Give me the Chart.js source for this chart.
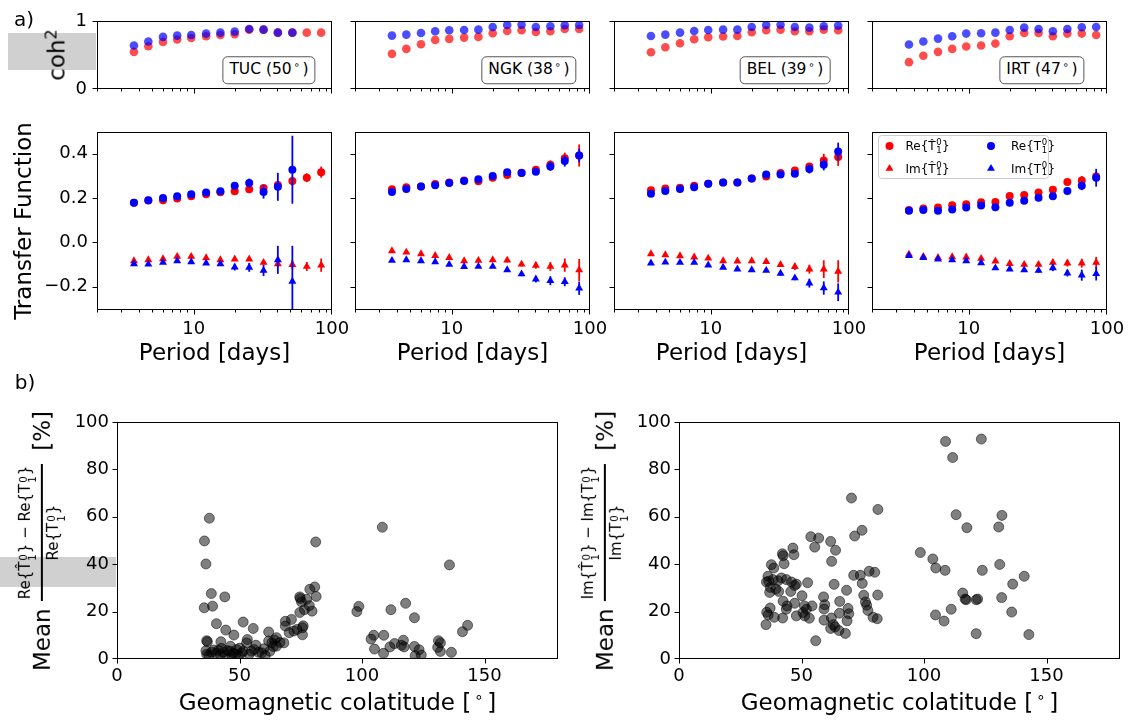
<!DOCTYPE html>
<html>
<head>
<meta charset="utf-8">
<title>Transfer functions</title>
<script src="https://cdn.jsdelivr.net/npm/chart.js@4.4.1/dist/chart.umd.min.js"></script>
<style>
  body { margin: 0; background: #fff; }
  #fig { position: relative; width: 1132px; height: 720px; overflow: hidden; background: #fff;
         font-family: "DejaVu Sans", sans-serif; color: #000; }
  #fig canvas { position: absolute; }
  .wm { position: absolute; background: #d0d0d0; }
  .txt { position: absolute; white-space: nowrap; line-height: 1; transform: translate(-50%, -50%); }
  .rot { transform: translate(-50%, -50%) rotate(-90deg); }
  .big { font-size: 23px; }
  .stn { font-size: 15.5px; padding: 5px 6px; border: 1.4px solid #555; border-radius: 5px; background: #fff; }
  .deg { font-size: 0.65em; position: relative; top: -0.55em; margin: 0 0.25em 0 0.2em; }
  .ylab { display: flex; align-items: center; }
  .frac { display: inline-flex; flex-direction: column; align-items: center; font-size: 15px; margin: 0 13px 0 7px; }
  .frac .num { padding: 0 2px 3px; border-bottom: 2px solid #000; }
  .frac .den { padding-top: 3px; }
  .ss { display: inline-flex; flex-direction: column; font-size: 0.68em; line-height: 0.95; vertical-align: 0.32em; margin: 0 1px; }
  .sup { font-size: 0.7em; position: relative; top: -0.5em; }
</style>
</head>
<body>
<div id="fig">
  <div class="wm" style="left:8px;top:33px;width:88px;height:37px"></div>
  <div class="wm" style="left:0;top:557px;width:116px;height:30px"></div>
</div>
<script>
// periods [days] and axis ticks
const periods = [3.7, 4.7, 6.0, 7.6, 9.6, 12.3, 15.6, 19.8, 25.2, 32.0, 40.6, 51.7, 65.7, 83.5, 106];
const periodTicks = [2, 3, 4, 5, 6, 7, 8, 9, 10, 20, 30, 40, 50, 60, 70, 80, 90, 100];
const periodLabels = [10, 100];
const tfTicks = [-0.2, 0, 0.2, 0.4];
const cohTicks = [0, 1];
const colatTicks = [0, 50, 100, 150];
const pctTicks = [0, 20, 40, 60, 80, 100];

const stationNames = ['TUC', 'NGK', 'BEL', 'IRT'];
const stationColat = [50, 38, 39, 47];

// TUC
const cohHatTUC = [0.546, 0.629, 0.693, 0.727, 0.751, 0.776, 0.795, 0.805, 0.873, 0.873, 0.829, 0.829, 0.829, 0.829, 0.80];
const cohTUC    = [0.639, 0.698, 0.766, 0.785, 0.795, 0.815, 0.829, 0.844, 0.883, 0.873, 0.829, 0.829, null, null, null];
const reHatTUC  = [0.178, 0.188, 0.19, 0.197, 0.207, 0.216, 0.225, 0.23, 0.239, 0.245, 0.258, 0.276, 0.291, 0.316, null];
const reTUC     = [0.178, 0.19, 0.2, 0.207, 0.216, 0.224, 0.23, 0.255, 0.267, 0.227, 0.25, 0.327, null, null, null];
const imHatTUC  = [-0.084, -0.079, -0.075, -0.064, -0.064, -0.07, -0.079, -0.076, -0.076, -0.091, -0.097, -0.101, -0.109, -0.103, -0.124];
const imTUC     = [-0.097, -0.099, -0.091, -0.084, -0.088, -0.094, -0.097, -0.112, -0.113, -0.127, -0.079, -0.176, null, null, null];
const errReHatTUC = [0, 0, 0, 0, 0, 0, 0, 0, 0, 0.01, 0.015, 0.02, 0.02, 0.025, 0];
const errReTUC    = [0, 0, 0, 0, 0, 0, 0, 0.01, 0.02, 0.03, 0.063, 0.153, 0, 0, 0];
const errImHatTUC = [0, 0, 0, 0, 0, 0, 0, 0, 0, 0.01, 0.015, 0.02, 0.02, 0.03, 0.02];
const errImTUC    = [0, 0, 0, 0, 0, 0, 0, 0.015, 0.02, 0.025, 0.063, 0.16, 0, 0, 0];

// NGK
const cohHatNGK = [0.517, 0.59, 0.659, 0.722, 0.737, 0.756, 0.766, 0.82, 0.854, 0.863, 0.839, 0.849, 0.883, 0.883, 0.873];
const cohNGK    = [0.785, 0.8, 0.824, 0.849, 0.863, 0.868, 0.873, 0.912, 0.941, 0.946, 0.912, 0.922, 0.937, 0.941, null];
const reHatNGK  = [0.239, 0.248, 0.252, 0.263, 0.269, 0.278, 0.275, 0.291, 0.303, 0.313, 0.327, 0.349, 0.379, 0.391, 0.394];
const reNGK     = [0.227, 0.24, 0.251, 0.257, 0.267, 0.276, 0.284, 0.299, 0.316, 0.312, 0.318, 0.342, 0.366, 0.391, null];
const imHatNGK  = [-0.039, -0.045, -0.052, -0.06, -0.069, -0.084, -0.082, -0.079, -0.081, -0.099, -0.104, -0.109, -0.103, -0.125, -0.139];
const imNGK     = [-0.082, -0.079, -0.084, -0.088, -0.1, -0.11, -0.109, -0.109, -0.124, -0.143, -0.166, -0.173, -0.178, -0.207, null];
const errReHatNGK = [0, 0, 0, 0, 0, 0, 0, 0, 0, 0.008, 0.015, 0.02, 0.025, 0.05, 0.03];
const errReNGK    = [0, 0, 0, 0, 0, 0, 0, 0, 0, 0.008, 0.015, 0.02, 0.025, 0.03, 0];
const errImHatNGK = [0, 0, 0, 0, 0, 0, 0, 0, 0.01, 0.01, 0.015, 0.02, 0.03, 0.05, 0.03];
const errImNGK    = [0, 0, 0, 0, 0, 0, 0, 0, 0, 0.01, 0.015, 0.02, 0.02, 0.03, 0];

// BEL
const cohHatBEL = [0.541, 0.615, 0.673, 0.732, 0.761, 0.771, 0.78, 0.834, 0.863, 0.873, 0.849, 0.849, 0.873, 0.863, 0.873];
const cohBEL    = [0.78, 0.8, 0.829, 0.854, 0.868, 0.873, 0.873, 0.912, 0.941, 0.946, 0.912, 0.902, 0.922, 0.932, null];
const reHatBEL  = [0.234, 0.242, 0.246, 0.255, 0.264, 0.269, 0.27, 0.287, 0.297, 0.312, 0.324, 0.342, 0.369, 0.384, 0.398];
const reBEL     = [0.219, 0.231, 0.24, 0.248, 0.264, 0.269, 0.27, 0.288, 0.306, 0.306, 0.309, 0.33, 0.349, 0.409, null];
const imHatBEL  = [-0.052, -0.057, -0.061, -0.067, -0.072, -0.084, -0.085, -0.084, -0.087, -0.101, -0.11, -0.121, -0.121, -0.131, -0.142];
const imBEL     = [-0.094, -0.09, -0.091, -0.091, -0.103, -0.113, -0.121, -0.124, -0.127, -0.14, -0.161, -0.184, -0.206, -0.225, null];
const errReHatBEL = [0, 0, 0, 0, 0, 0, 0, 0, 0, 0.01, 0.015, 0.015, 0.03, 0.04, 0.03];
const errReBEL    = [0, 0, 0, 0, 0, 0, 0, 0, 0, 0.01, 0.015, 0.02, 0.025, 0.04, 0];
const errImHatBEL = [0, 0, 0, 0, 0, 0, 0, 0, 0, 0.01, 0.015, 0.02, 0.04, 0.05, 0.03];
const errImBEL    = [0, 0, 0, 0, 0, 0, 0, 0, 0, 0.01, 0.01, 0.02, 0.03, 0.04, 0];

// IRT
const cohHatIRT = [0.395, 0.488, 0.546, 0.59, 0.624, 0.639, 0.668, 0.776, 0.824, 0.824, 0.776, 0.815, 0.815, 0.795, 0.815];
const cohIRT    = [0.654, 0.698, 0.741, 0.776, 0.815, 0.82, 0.829, 0.868, 0.902, 0.883, 0.849, 0.883, 0.907, 0.912, null];
const reHatIRT  = [0.145, 0.152, 0.157, 0.167, 0.172, 0.181, 0.182, 0.209, 0.213, 0.224, 0.237, 0.272, 0.279, 0.297, 0.321];
const reIRT     = [0.142, 0.145, 0.142, 0.148, 0.157, 0.166, 0.158, 0.178, 0.187, 0.201, 0.207, 0.231, 0.255, 0.291, null];
const imHatIRT  = [-0.054, -0.064, -0.069, -0.066, -0.067, -0.073, -0.085, -0.096, -0.1, -0.1, -0.091, -0.094, -0.094, -0.091, -0.121];
const imIRT     = [-0.06, -0.069, -0.076, -0.079, -0.084, -0.093, -0.116, -0.121, -0.125, -0.127, -0.115, -0.139, -0.148, -0.142, null];
const errReHatIRT = [0, 0, 0, 0, 0, 0, 0, 0, 0, 0.008, 0.01, 0.012, 0.02, 0.02, 0.02];
const errReIRT    = [0, 0, 0, 0, 0, 0, 0, 0, 0, 0.008, 0.015, 0.015, 0.02, 0.04, 0];
const errImHatIRT = [0, 0, 0, 0, 0, 0, 0, 0, 0, 0.01, 0.015, 0.015, 0.02, 0.025, 0.02];
const errImIRT    = [0, 0, 0, 0, 0, 0, 0, 0, 0, 0.01, 0.015, 0.015, 0.025, 0.03, 0];

// b) mean relative differences per observatory [%]
const colatRe = [35.7, 37.7, 36.3, 35.6, 38.5, 39.0, 44.0, 40.6, 44.4, 47.7, 51.5, 55.6, 36.6, 36.9, 42.4, 36.3, 36.6, 37.5, 38.6, 39.5,
  40.4, 41.3, 42.2, 42.6, 43.4, 44.2, 45.0, 46.1, 46.3, 46.8, 47.5, 48.4, 48.8, 49.6, 50.1, 51.0, 51.5, 52.9, 53.2, 54.0,
  54.9, 56.0, 56.7, 57.8, 59.1, 59.9, 60.5, 61.9, 61.9, 62.4, 63.2, 63.8, 64.3, 65.1, 65.1, 66.5, 68.1, 68.7, 68.7, 70.3,
  71.2, 72.2, 73.5, 74.6, 74.8, 75.3, 74.6, 76.0, 75.7, 77.4, 76.5, 78.7, 79.6, 80.7, 81.3, 81.1, 78.5, 75.7,
  97.9, 98.7, 103.7, 104.8, 105.1, 108.3, 108.9, 108.8, 111.4, 111.8, 113.3, 116.1, 116.9, 117.2, 117.8, 121.4, 121.4, 121.7,
  123.3, 124.2, 131.2, 130.9, 132.0, 132.0, 135.7, 136.5, 141.0, 143.1];
const diffRe = [49.8, 59.4, 40.1, 21.6, 27.6, 22.3, 26.2, 14.9, 12.2, 10.1, 15.6, 12.9, 7.7, 7.3, 7.3, 3.5, 2.0, 1.5, 2.9, 3.8,
  2.4, 3.6, 1.8, 4.5, 2.9, 1.5, 3.6, 3.3, 5.4, 1.6, 2.4, 2.0, 4.0, 1.4, 4.6, 2.6, 3.3, 6.8, 8.2, 2.0,
  3.3, 4.0, 5.8, 2.8, 2.6, 4.3, 1.5, 11.4, 7.6, 3.3, 6.8, 5.3, 8.0, 9.0, 5.4, 7.0, 6.8, 15.9, 13.9, 11.1,
  16.7, 11.8, 12.5, 26.2, 25.5, 24.1, 19.6, 14.0, 10.2, 25.2, 20.8, 29.4, 20.2, 30.4, 26.4, 49.4, 22.5, 13.2,
  20.0, 22.2, 8.4, 10.0, 4.2, 55.6, 10.0, 2.4, 5.1, 20.8, 6.5, 5.8, 7.9, 5.1, 23.5, 17.4, 5.3, 1.4,
  3.9, 1.7, 7.7, 4.9, 6.8, 3.2, 39.7, 2.8, 11.5, 14.2];
const colatIm = [70.4, 81.2, 53.8, 57.0, 55.4, 61.9, 63.9, 71.7, 74.7, 46.5, 46.9, 42.2, 42.5, 37.7, 38.7, 42.9, 62.3, 71.3, 74.0, 77.6,
  79.9, 74.8, 63.3, 68.4, 81.1, 75.4, 76.1, 76.6, 77.1, 79.2, 80.9, 36.3, 36.6, 38.4, 40.4, 41.8, 43.8, 45.9, 47.9, 47.2,
  35.7, 37.3, 39.5, 37.0, 40.7, 45.6, 52.5, 50.2, 42.5, 44.1, 47.2, 43.8, 37.2, 35.8, 36.4, 38.9, 42.3, 35.5, 51.2, 52.0,
  50.6, 47.9, 54.3, 53.2, 59.0, 59.5, 59.2, 62.2, 59.2, 65.6, 65.5, 69.0, 69.3, 68.6, 61.9, 63.0, 63.7, 65.3, 67.9, 55.8,
  51.3, 98.5, 103.6, 104.8, 108.6, 108.8, 111.7, 113.1, 117.5, 123.4, 123.8, 104.7, 108.2, 111.1, 115.8, 116.8, 117.2, 121.3,
  121.9, 121.3, 130.5, 131.8, 130.9, 131.7, 135.8, 136.2, 140.9, 142.8];
const diffIm = [67.9, 63.1, 51.6, 51.0, 47.2, 49.6, 45.9, 51.9, 54.3, 46.8, 44.0, 44.4, 43.6, 39.8, 38.4, 40.2, 41.2, 35.3, 35.3, 37.0,
  36.6, 31.9, 31.5, 29.0, 27.0, 26.9, 24.1, 22.7, 20.5, 17.6, 17.0, 34.9, 32.8, 33.5, 33.0, 34.2, 33.5, 32.5, 31.6, 31.0,
  32.5, 30.2, 29.5, 28.1, 28.5, 28.5, 32.2, 26.7, 24.4, 22.4, 23.5, 21.0, 21.5, 19.7, 18.6, 17.6, 17.3, 14.5, 22.4, 21.0,
  19.6, 18.2, 22.4, 17.2, 26.2, 22.9, 21.1, 17.3, 16.4, 24.3, 19.3, 21.3, 19.1, 16.1, 12.9, 14.5, 13.5, 12.0, 10.8, 7.7,
  18.2, 44.9, 42.2, 38.4, 37.4, 91.8, 85.0, 60.9, 55.4, 92.8, 37.4, 18.6, 16.0, 21.0, 27.8, 25.3, 25.0, 25.0,
  25.3, 10.7, 55.7, 60.6, 39.9, 25.9, 19.8, 31.6, 34.9, 10.3];

const tf = {
  TUC: { cohHat: cohHatTUC, coh: cohTUC, reHat: reHatTUC, re: reTUC, imHat: imHatTUC, im: imTUC,
         eReHat: errReHatTUC, eRe: errReTUC, eImHat: errImHatTUC, eIm: errImTUC },
  NGK: { cohHat: cohHatNGK, coh: cohNGK, reHat: reHatNGK, re: reNGK, imHat: imHatNGK, im: imNGK,
         eReHat: errReHatNGK, eRe: errReNGK, eImHat: errImHatNGK, eIm: errImNGK },
  BEL: { cohHat: cohHatBEL, coh: cohBEL, reHat: reHatBEL, re: reBEL, imHat: imHatBEL, im: imBEL,
         eReHat: errReHatBEL, eRe: errReBEL, eImHat: errImHatBEL, eIm: errImBEL },
  IRT: { cohHat: cohHatIRT, coh: cohIRT, reHat: reHatIRT, re: reIRT, imHat: imHatIRT, im: imIRT,
         eReHat: errReHatIRT, eRe: errReIRT, eImHat: errImHatIRT, eIm: errImIRT }
};

const RED = 'rgb(255,0,0)', BLUE = 'rgb(0,0,255)';
const fig = document.getElementById('fig');
const FONT = 'DejaVu Sans';

// frame + outward tick marks, like matplotlib spines
const frame = {
  id: 'frame',
  afterDraw(chart) {
    const { ctx, chartArea: a } = chart;
    ctx.save();
    ctx.strokeStyle = '#000';
    ctx.lineWidth = 1;
    ['x', 'y'].forEach(id => {
      const s = chart.scales[id];
      s.ticks.forEach(t => {
        const len = t.major ? 4.5 : 2.5;
        const px = Math.round(s.getPixelForValue(t.value)) + 0.5;
        ctx.beginPath();
        if (id === 'x') {
          const p = Math.min(Math.max(px, a.left + 0.5), a.right - 0.5);
          ctx.moveTo(p, a.bottom); ctx.lineTo(p, a.bottom + len);
        } else {
          const p = Math.min(Math.max(px, a.top + 0.5), a.bottom - 0.5);
          ctx.moveTo(a.left - len, p); ctx.lineTo(a.left, p);
        }
        ctx.stroke();
      });
    });
    ctx.strokeRect(a.left + 0.5, a.top + 0.5, a.right - a.left - 1, a.bottom - a.top - 1);
    ctx.restore();
  }
};

// vertical error bars, drawn just before each dataset's markers
const errorBars = {
  id: 'errorBars',
  beforeDatasetDraw(chart, args) {
    const ds = chart.data.datasets[args.index];
    if (!ds.errors) return;
    const { ctx, chartArea: a } = chart;
    const ys = chart.scales.y;
    ctx.save();
    ctx.beginPath();
    ctx.rect(a.left, a.top, a.right - a.left, a.bottom - a.top);
    ctx.clip();
    ctx.strokeStyle = ds.backgroundColor;
    ctx.lineWidth = 1.8;
    args.meta.data.forEach((pt, i) => {
      const v = ds.data[i].y, e = ds.errors[i];
      if (v == null || !e) return;
      ctx.beginPath();
      ctx.moveTo(pt.x, ys.getPixelForValue(v - e));
      ctx.lineTo(pt.x, ys.getPixelForValue(v + e));
      ctx.stroke();
    });
    ctx.restore();
  }
};

// Pre{T^0_1} with optional hat, drawn from baseline (x, y)
function drawTerm(ctx, x, y, pre, hat) {
  ctx.textAlign = 'left';
  ctx.textBaseline = 'alphabetic';
  ctx.font = '12px "' + FONT + '"';
  const head = pre + '{' + (hat ? 'T\u0302' : 'T');
  ctx.fillText(head, x, y);
  x += ctx.measureText(head).width + 0.5;
  ctx.font = '8.5px "' + FONT + '"';
  ctx.fillText('0', x, y - 5);
  ctx.fillText('1', x, y + 2.5);
  x += ctx.measureText('0').width + 0.5;
  ctx.font = '12px "' + FONT + '"';
  ctx.fillText('}', x, y);
}

const legendItems = [
  { pre: 'Re', hat: true, color: RED, style: 'circle' },
  { pre: 'Re', hat: false, color: BLUE, style: 'circle' },
  { pre: 'Im', hat: true, color: RED, style: 'triangle' },
  { pre: 'Im', hat: false, color: BLUE, style: 'triangle' }
];

const tfLegend = {
  id: 'tfLegend',
  afterDatasetsDraw(chart) {
    const { ctx, chartArea: a } = chart;
    const x0 = a.left + 6, y0 = a.top + 3;
    ctx.save();
    ctx.fillStyle = 'rgba(255,255,255,0.8)';
    ctx.strokeStyle = '#ccc';
    ctx.lineWidth = 1;
    ctx.beginPath();
    ctx.roundRect(x0 + 0.5, y0 + 0.5, 170, 43, 3);
    ctx.fill();
    ctx.stroke();
    legendItems.forEach((it, k) => {
      const col = k % 2, row = k < 2 ? 0 : 1;
      const cx = x0 + (col ? 113 : 11.5), cy = y0 + (row ? 33.5 : 11);
      ctx.fillStyle = it.color;
      Chart.helpers.drawPoint(ctx, { pointStyle: it.style, radius: it.style === 'circle' ? 4 : 4.6, borderWidth: 0, rotation: 0 }, cx, cy);
      ctx.fillStyle = '#000';
      drawTerm(ctx, cx + (col ? 20 : 16), cy + 4, it.pre, it.hat);
    });
    ctx.restore();
  }
};

function axis(type, min, max, values, majors, label, pad) {
  return {
    type, min, max,
    afterBuildTicks: s => { s.ticks = values.map(v => ({ value: v, major: majors ? majors.includes(v) : true })); },
    grid: { display: false, drawTicks: false },
    border: { display: false },
    ticks: { autoSkip: false, maxRotation: 0, minRotation: 0, padding: pad, color: '#000',
             font: { family: FONT, size: 18 }, callback: label }
  };
}

const tfFmt = v => (v === 0 ? '0.0' : v.toFixed(1).replace('-', '\u2212'));

// fixed margins so the plot area lands exactly on rect
function makeChart(rect, M, datasets, scales, extra) {
  const c = document.createElement('canvas');
  c.width = rect.w + M.l + M.r;
  c.height = rect.h + M.t + M.b;
  c.style.left = (rect.x - M.l) + 'px';
  c.style.top = (rect.y - M.t) + 'px';
  fig.appendChild(c);
  const noPad = s => { s.paddingLeft = 0; s.paddingRight = 0; s.paddingTop = 0; s.paddingBottom = 0; };
  scales.x.afterFit = s => { s.height = M.b; noPad(s); };
  scales.y.afterFit = s => { s.width = M.l; noPad(s); };
  return new Chart(c, {
    type: 'scatter',
    data: { datasets },
    options: {
      responsive: false, animation: false, devicePixelRatio: 1, events: [],
      layout: { padding: { left: 0, top: M.t, right: M.r, bottom: 0 } },
      plugins: { legend: { display: false }, tooltip: { enabled: false } },
      scales
    },
    plugins: [errorBars, frame].concat(extra || [])
  });
}

function series(vals, color, style, radius, errors) {
  return {
    data: periods.map((p, i) => ({ x: p, y: vals[i] })),
    backgroundColor: color, borderColor: color, borderWidth: 0,
    pointStyle: style, pointRadius: radius, clip: 0, errors
  };
}

const panelX = [97, 355, 614, 872];
const PW = 235;

stationNames.forEach((name, i) => {
  const d = tf[name];
  const first = i === 0;

  // squared coherence
  makeChart({ x: panelX[i], y: 21, w: PW, h: 68 }, { l: 75, t: 14, r: 26, b: 12 }, [
    series(d.coh, 'rgba(0,0,255,0.7)', 'circle', 4.3),
    series(d.cohHat, 'rgba(255,0,0,0.7)', 'circle', 4.3)
  ], {
    x: axis('logarithmic', 2, 100, periodTicks, periodLabels, () => '', 9),
    y: axis('linear', 0, 1, cohTicks, null, v => (first ? String(v) : ''), 10)
  });

  // transfer function
  makeChart({ x: panelX[i], y: 132, w: PW, h: 178 }, { l: 75, t: 14, r: 26, b: 34 }, [
    series(d.re, BLUE, 'circle', 4, d.eRe),
    series(d.im, BLUE, 'triangle', 4.6, d.eIm),
    series(d.reHat, RED, 'circle', 4, d.eReHat),
    series(d.imHat, RED, 'triangle', 4.6, d.eImHat)
  ], {
    x: axis('logarithmic', 2, 100, periodTicks, periodLabels, v => (periodLabels.includes(v) ? String(v) : ''), 9),
    y: axis('linear', -0.305, 0.497, tfTicks, null, v => (first ? tfFmt(v) : ''), 9)
  }, name === 'IRT' ? [tfLegend] : []);
});

function scatterSet(xs, ys) {
  return {
    data: xs.map((x, i) => ({ x, y: ys[i] })),
    backgroundColor: 'rgba(0,0,0,0.5)', borderColor: 'rgba(0,0,0,0.5)', borderWidth: 1,
    pointRadius: 5, clip: 0
  };
}

[[117, colatRe, diffRe], [679, colatIm, diffIm]].forEach(([x0, xs, ys]) => {
  makeChart({ x: x0, y: 422, w: 441, h: 237 }, { l: 75, t: 14, r: 12, b: 34 }, [scatterSet(xs, ys)], {
    x: axis('linear', 0, 180, colatTicks, null, v => String(v), 7),
    y: axis('linear', 0, 100, pctTicks, null, v => String(v), 8)
  });
});

// ---- text labels ----
function addText(html, x, y, cls, size) {
  const el = document.createElement('div');
  el.className = 'txt ' + (cls || '');
  el.innerHTML = html;
  el.style.left = x + 'px';
  el.style.top = y + 'px';
  if (size) el.style.fontSize = size + 'px';
  fig.appendChild(el);
  return el;
}

const ss = '<span class="ss"><span>0</span><span>1</span></span>';
const term = (pre, hat) => pre + '{T' + (hat ? '&#770;' : '') + ss + '}';

addText('a)', 24, 19, '', 20);
addText('b)', 25, 382, '', 20);
addText('coh<span class="sup">2</span>', 57, 55, 'rot', 23);
addText('Transfer Function', 23, 221, 'rot', 23);
panelX.forEach(x => addText('Period [days]', x + PW / 2, 352, '', 23));
addText('Geomagnetic colatitude [<span class="deg">&#8728;</span>]', 337.5, 702, '', 23);
addText('Geomagnetic colatitude [<span class="deg">&#8728;</span>]', 899.5, 702, '', 23);

const boxCenters = [269, 529, 785, 1042];
stationNames.forEach((name, i) => {
  addText(name + ' (' + stationColat[i] + '<span class="deg">&#8728;</span>)', boxCenters[i], 70, 'stn');
});

[['Re', 42], ['Im', 605]].forEach(([p, x]) => {
  addText('<span class="big">Mean</span><span class="frac"><span class="num">' + term(p, true) + ' &minus; ' + term(p, false) +
          '</span><span class="den">' + term(p, false) + '</span></span><span class="big">[%]</span>', x, 540.5, 'rot ylab');
});
</script>
</body>
</html>
